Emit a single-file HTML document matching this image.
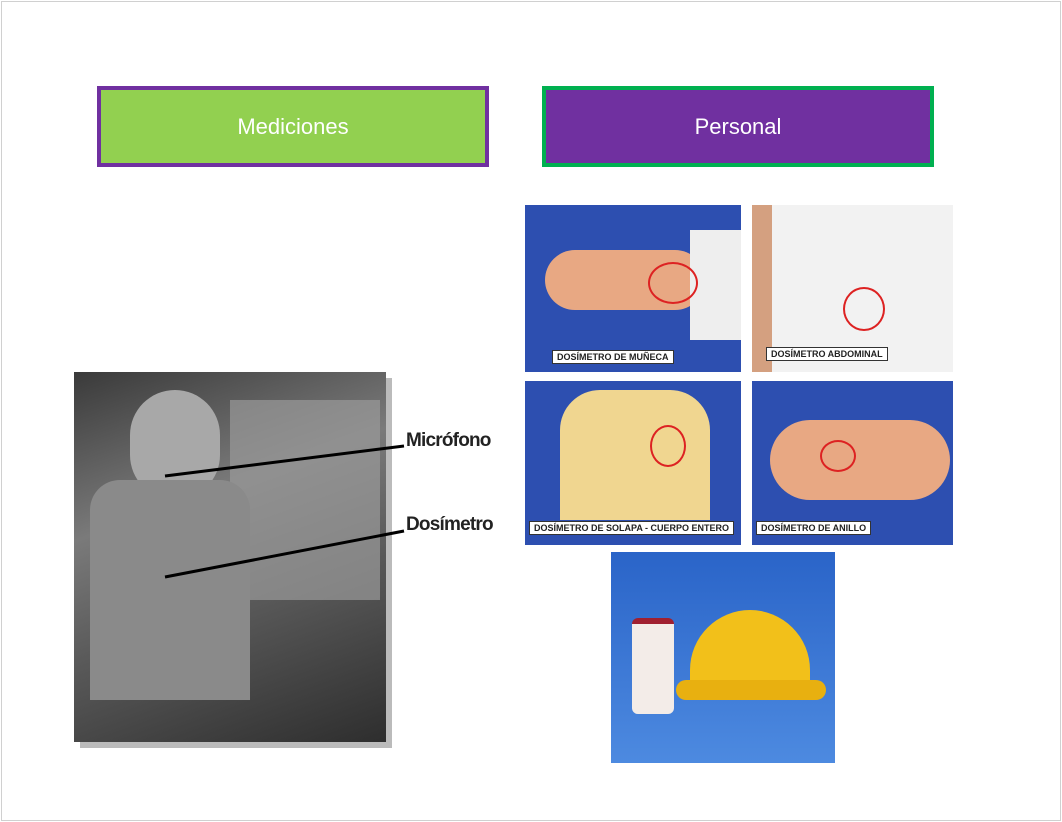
<!DOCTYPE html>
<html><head><meta charset="utf-8"><style>
body{margin:0;width:1062px;height:822px;background:#fff;position:relative;overflow:hidden;font-family:"Liberation Sans",sans-serif}
.a{position:absolute}
.box{position:absolute;box-sizing:border-box;color:#fff;font-size:22px;display:flex;align-items:center;justify-content:center}
.lbl{position:absolute;background:#fff;color:#222;font-size:9px;font-weight:bold;padding:1px 4px;border:1px solid #333}
</style></head><body>
<div class="a" style="left:1px;top:1px;width:1058px;height:818px;border:1px solid #d0d0d0"></div>
<div class="box" style="left:97px;top:86px;width:392px;height:81px;background:#92d050;border:4px solid #7030a0">Mediciones</div>
<div class="box" style="left:542px;top:86px;width:392px;height:81px;background:#7030a0;border:4px solid #00b050">Personal</div>

<div class="a" style="left:80px;top:378px;width:312px;height:370px;background:#bbb"></div>
<div class="a" style="left:74px;top:372px;width:312px;height:370px;background:linear-gradient(160deg,#3a3a3a 0%,#7a7a7a 35%,#5a5a5a 60%,#2e2e2e 100%)"></div>
<div class="a" style="left:230px;top:400px;width:150px;height:200px;background:#9a9a9a;opacity:.7"></div>
<div class="a" style="left:130px;top:390px;width:90px;height:110px;border-radius:45px;background:#a8a8a8"></div>
<div class="a" style="left:90px;top:480px;width:160px;height:220px;background:#8a8a8a;border-radius:30px 30px 0 0"></div>
<svg class="a" style="left:0;top:0" width="1062" height="822"><line x1="165" y1="476" x2="404" y2="446" stroke="#000" stroke-width="3"/><line x1="165" y1="577" x2="404" y2="531" stroke="#000" stroke-width="3"/></svg>
<div class="a" style="left:406px;top:430px;font-size:19px;font-weight:bold;color:#222;letter-spacing:-0.8px">Micrófono</div>
<div class="a" style="left:406px;top:514px;font-size:19px;font-weight:bold;color:#222;letter-spacing:-0.8px">Dosímetro</div>

<div class="a" style="left:525px;top:205px;width:216px;height:167px;background:#2d4fb0"></div>
<div class="a" style="left:545px;top:250px;width:160px;height:60px;background:#e8a883;border-radius:30px"></div>
<div class="a" style="left:690px;top:230px;width:51px;height:110px;background:#eee"></div>
<div class="a" style="left:648px;top:262px;width:46px;height:38px;border:2px solid #d22;border-radius:50%"></div>
<div class="lbl" style="left:552px;top:350px">DOSÍMETRO DE MUÑECA</div>
<div class="a" style="left:752px;top:205px;width:201px;height:167px;background:#f2f2f2"></div>
<div class="a" style="left:752px;top:205px;width:20px;height:167px;background:#d4a080"></div>
<div class="a" style="left:843px;top:287px;width:38px;height:40px;border:2px solid #d22;border-radius:50%"></div>
<div class="lbl" style="left:766px;top:347px">DOSÍMETRO ABDOMINAL</div>
<div class="a" style="left:525px;top:381px;width:216px;height:164px;background:#2d4fb0"></div>
<div class="a" style="left:560px;top:390px;width:150px;height:130px;background:#f0d690;border-radius:40px 40px 0 0"></div>
<div class="a" style="left:650px;top:425px;width:32px;height:38px;border:2px solid #d22;border-radius:50%"></div>
<div class="lbl" style="left:529px;top:521px">DOSÍMETRO DE SOLAPA - CUERPO ENTERO</div>
<div class="a" style="left:752px;top:381px;width:201px;height:164px;background:#2d4fb0"></div>
<div class="a" style="left:770px;top:420px;width:180px;height:80px;background:#e8a883;border-radius:40px"></div>
<div class="a" style="left:820px;top:440px;width:32px;height:28px;border:2px solid #d22;border-radius:50%"></div>
<div class="lbl" style="left:756px;top:521px">DOSÍMETRO DE ANILLO</div>

<div class="a" style="left:611px;top:552px;width:224px;height:211px;background:linear-gradient(180deg,#2a64c8,#4d8ae0)"></div>
<div class="a" style="left:632px;top:618px;width:42px;height:90px;background:#f3ece8;border-radius:6px;border-top:6px solid #a02030"></div>
<div class="a" style="left:690px;top:610px;width:120px;height:80px;background:#f2c01a;border-radius:60px 60px 10px 10px"></div>
<div class="a" style="left:676px;top:680px;width:150px;height:20px;background:#e8b010;border-radius:10px"></div>
</body></html>
